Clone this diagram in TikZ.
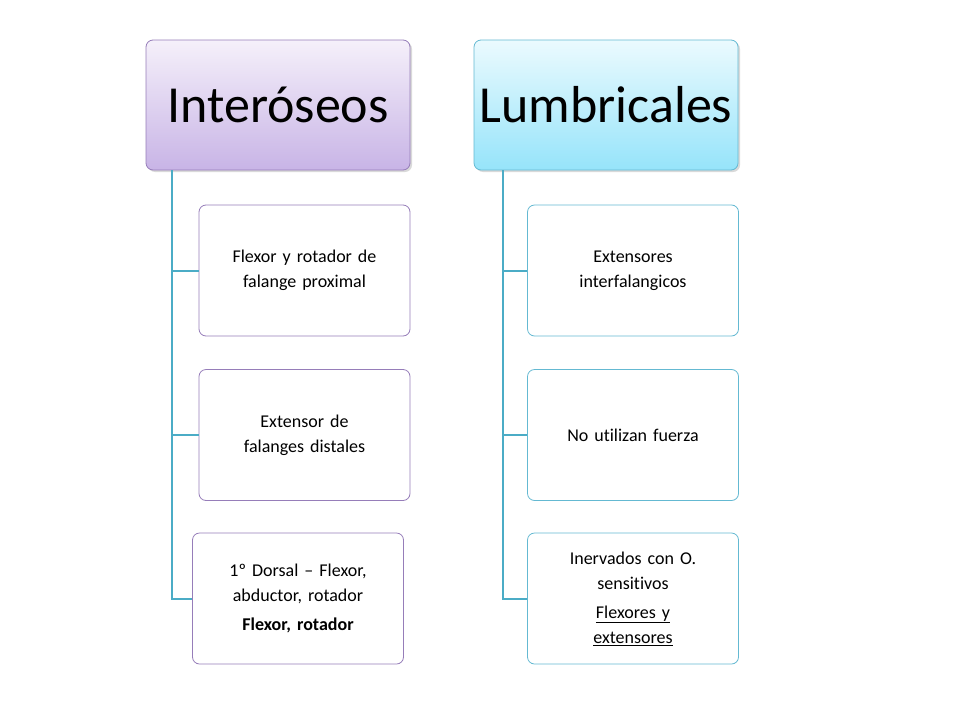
\documentclass[tikz,border=0pt]{standalone}
\usepackage{fontspec}
\setmainfont[Ligatures={NoCommon}]{Carlito}
\usetikzlibrary{shadows}
\definecolor{conn}{RGB}{75,172,198}
\definecolor{purpB}{RGB}{150,125,185}
\definecolor{cyanB}{RGB}{100,185,210}
\tikzset{
 x=1pt,y=-1pt,
 hdr/.style={rounded corners=7pt,minimum width=264pt,minimum height=130pt,inner sep=0pt,line width=0.8pt,drop shadow={opacity=0.3,shadow xshift=2pt,shadow yshift=-2pt},font=\fontsize{52}{58}\selectfont},
 hdrP/.style={hdr,draw=purpB,top color={rgb,255:red,245;green,240;blue,250},bottom color={rgb,255:red,200;green,180;blue,230}},
 hdrC/.style={hdr,draw=cyanB,top color={rgb,255:red,235;green,250;blue,254},bottom color={rgb,255:red,150;green,228;blue,250}},
 kid/.style={rounded corners=7pt,draw,line width=0.8pt,fill=white,minimum width=211pt,minimum height=131pt,text width=185pt,align=center,inner sep=0pt,font=\fontsize{18}{25}\selectfont},
 kidP/.style={kid,draw=purpB},
 kidC/.style={kid,draw=cyanB},
 con/.style={draw=conn,line width=2pt}
}
\begin{document}
\begin{tikzpicture}
\useasboundingbox (0,0) rectangle (960,720);
\node[hdrP] (h1) at (278,105) {Interóseos};
\node[hdrC] (h2) at (606,105) {Lumbricales};
\node[kidP] (a1) at (304.5,270.5) {Flexor y rotador de falange proximal};
\node[kidP] (a2) at (304.5,435) {Extensor de\\falanges distales};
\node[kidP] (a3) at (298,598.5) {1º Dorsal – Flexor, abductor, rotador\\[4pt]\textbf{Flexor, rotador}};
\node[kidC] (b1) at (633,270.5) {Extensores\\interfalangicos};
\node[kidC] (b2) at (633,435) {No utilizan fuerza};
\node[kidC] (b3) at (633,598.5) {Inervados con O.\\sensitivos\\[4pt]\underline{Flexores y}\\\underline{extensores}};
\coordinate (v1) at (172,170);
\coordinate (v2) at (503,170);
\draw[con] (v1) |- (a3.west);
\draw[con] (172,270.5) -- (a1.west);
\draw[con] (172,435) -- (a2.west);
\draw[con] (v2) |- (b3.west);
\draw[con] (503,270.5) -- (b1.west);
\draw[con] (503,435) -- (b2.west);
\end{tikzpicture}
\end{document}
